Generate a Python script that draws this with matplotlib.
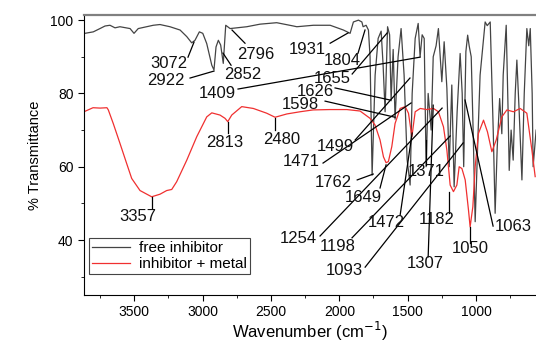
import matplotlib
matplotlib.use("Agg")
import matplotlib.pyplot as plt
from matplotlib.ticker import MultipleLocator

plt.rcParams['font.family'] = ['Liberation Sans', 'DejaVu Sans']

# free inhibitor spectrum (wavenumber, %T)
free_wn = [3861, 3800, 3751, 3714, 3678, 3641, 3605, 3531, 3502, 3471, 3361, 3312,
           3239, 3165, 3116, 3080, 3056, 3024, 2999, 2970, 2933, 2917, 2902, 2885,
           2868, 2849, 2831, 2799, 2677, 2580, 2458, 2336, 2311, 2190, 2067, 1970,
           1921, 1897, 1860, 1835, 1826, 1804, 1787, 1775, 1760, 1738, 1716, 1694,
           1680, 1665, 1647, 1632, 1621, 1606, 1592, 1570, 1548, 1526, 1504, 1482,
           1467, 1445, 1423, 1409, 1394, 1379, 1365, 1350, 1328, 1313, 1292, 1275,
           1250, 1233, 1213, 1196, 1177, 1160, 1138, 1116, 1101, 1090, 1074, 1061,
           1050, 1035, 1021, 1006, 984, 970, 933, 918, 896, 874, 860, 845, 827, 811,
           801, 779, 765, 757, 743, 728, 713, 701, 684, 664, 647, 628, 614, 603,
           589, 582, 560]
free_t = [96.4, 96.8, 97.7, 98.4, 98.6, 97.9, 98.2, 97.7, 96.4, 97.7, 98.6, 98.8,
          98.2, 97.3, 95.5, 93.8, 94.5, 96.8, 96.4, 93.6, 87.7, 86.4, 92.7, 94.5,
          93.2, 88.2, 98.6, 97.7, 98.2, 98.9, 99.3, 98.4, 98.2, 98.6, 98.6, 97.3,
          96.4, 99.5, 100.0, 99.5, 98.2, 98.6, 97.3, 90.0, 57.7, 85.0, 95.0, 97.0,
          88.0, 75.0, 98.2, 96.0, 78.0, 92.0, 73.0, 90.0, 97.7, 85.0, 62.0, 55.0,
          80.0, 95.0, 99.1, 90.0, 96.0, 95.0, 60.0, 80.0, 70.0, 90.0, 93.0, 97.7,
          83.2, 94.1, 81.4, 60.0, 82.3, 54.5, 75.0, 90.9, 80.0, 60.0, 91.4, 95.9,
          93.0, 90.0, 70.0, 45.0, 70.0, 85.0, 99.5, 98.5, 99.5, 70.0, 47.3, 65.0,
          78.6, 69.0, 85.0, 98.6, 75.0, 59.0, 70.0, 61.8, 80.0, 89.1, 75.0, 56.4,
          80.0, 97.7, 93.0, 97.7, 80.0, 60.0, 70.0]

# inhibitor + metal spectrum
metal_wn = [3868, 3802, 3750, 3700, 3690, 3654, 3605, 3556, 3519, 3458, 3373, 3312,
            3263, 3226, 3190, 3116, 3043, 2970, 2933, 2873, 2836, 2816, 2787, 2714,
            2629, 2531, 2470, 2384, 2287, 2192, 2068, 1945, 1848, 1775, 1739, 1702,
            1677, 1658, 1641, 1616, 1592, 1555, 1518, 1494, 1469, 1445, 1408, 1360,
            1311, 1275, 1238, 1213, 1189, 1165, 1140, 1123, 1103, 1079, 1055, 1043,
            1023, 1006, 982, 945, 916, 884, 852, 811, 774, 726, 677, 628, 591, 567]
metal_t = [75.0, 76.1, 76.0, 76.1, 75.5, 71.8, 66.4, 60.9, 56.8, 53.5, 51.8, 52.5,
           53.5, 53.8, 55.9, 61.8, 68.2, 73.6, 74.7, 74.1, 73.2, 72.3, 74.1, 76.4,
           75.9, 74.6, 73.5, 74.4, 75.0, 75.5, 75.6, 75.6, 75.2, 73.2, 71.4, 67.3,
           62.7, 61.1, 61.4, 65.5, 71.8, 75.9, 76.4, 74.6, 68.2, 75.0, 75.9, 75.6,
           75.9, 75.0, 70.9, 64.5, 55.0, 53.2, 55.0, 60.0, 59.5, 56.4, 48.2, 43.6,
           49.1, 60.0, 69.1, 72.7, 69.5, 64.1, 67.3, 73.6, 75.5, 75.0, 75.9, 74.6,
           64.5, 57.3]

# peak labels: text, label position, leader start, leader end (data units)
peak_labels = ['3072', '2922', '2852', '2796', '1409', '1931', '1804', '1655',
               '1626', '1598', '1499', '1471', '1762', '1649', '1254', '1198',
               '1093', '1472', '1371', '1307', '1182', '1050', '1063', '3357',
               '2813', '2480']
label_xy = [(3246, 88.3), (3268, 83.6), (2704, 85.3), (2609, 90.7), (2895, 80.1),
            (2236, 92.1), (1976, 89.1), (2053, 84.2), (2177, 80.6), (2287, 77.1),
            (2030, 65.6), (2280, 61.3), (2045, 55.8), (1826, 51.7), (2302, 40.3),
            (2009, 38.1), (1965, 31.6), (1657, 44.9), (1364, 58.8), (1372, 33.5),
            (1284, 45.7), (1043, 37.6), (728, 43.6), (3472, 46.3), (2835, 66.7),
            (2419, 67.5)]
leader_from = [(3107, 89.9), (3092, 84.2), (2792, 87.7), (2690, 93.7), (2741, 81.2),
               (2067, 93.7), (1863, 91.0), (1906, 85.3), (2031, 81.5), (2104, 77.9),
               (1884, 67.3), (2119, 61.0), (1869, 56.4), (1702, 54.2), (2141, 41.1),
               (1907, 40.6), (1811, 32.6), (1555, 46.8), (1365, 60.5), (1350, 35.4),
               (1196, 47.4), (1043, 39.2), (875, 43.8), (3370, 48.7), (2814, 69.2),
               (2470, 70.0)]
leader_to = [(3063, 94.0), (2917, 86.1), (2851, 91.0), (2785, 97.3), (1409, 89.9),
             (1936, 96.5), (1812, 97.3), (1650, 96.5), (1629, 78.2), (1592, 73.5),
             (1483, 84.2), (1475, 77.4), (1752, 58.0), (1658, 60.5), (1248, 76.0),
             (1189, 68.4), (1094, 66.5), (1467, 69.2), (1365, 67.3), (1313, 76.8),
             (1196, 53.1), (1043, 43.6), (1080, 78.2), (3370, 51.7), (2814, 72.2),
             (2470, 73.3)]

fig = plt.figure(figsize=(5.36, 3.41), dpi=100)
ax = fig.add_axes([0.1567, 0.1349, 0.8433, 0.8211])

ax.plot(free_wn, free_t, color='#444444', lw=0.9, label='free inhibitor')
ax.plot(metal_wn, metal_t, color='#f03030', lw=0.9, label='inhibitor + metal')

for lab, txy, p0, p1 in zip(peak_labels, label_xy, leader_from, leader_to):
    ax.text(txy[0], txy[1], lab, fontsize=12, ha='center', va='center', color='#111111')
    ax.plot([p0[0], p1[0]], [p0[1], p1[1]], color='black', lw=0.9)

ax.set_xlim(3868, 561)
ax.set_ylim(25, 101.4)
ax.xaxis.set_major_locator(MultipleLocator(500))
ax.xaxis.set_minor_locator(MultipleLocator(250))
ax.yaxis.set_major_locator(MultipleLocator(20))
ax.yaxis.set_minor_locator(MultipleLocator(10))
ax.tick_params(which='both', direction='out', labelsize=10)
ax.tick_params(which='major', length=4)
ax.tick_params(which='minor', length=2.5)

ax.spines['right'].set_visible(False)
ax.spines['top'].set_color('#808080')
ax.spines['top'].set_linewidth(1.6)

ax.set_xlabel('Wavenumber (cm$^{-1}$)', fontsize=12, labelpad=0)
ax.set_ylabel('% Transmittance', fontsize=10.5, labelpad=6)

leg = ax.legend(loc='lower left', bbox_to_anchor=(0.01, 0.075), borderaxespad=0,
                fontsize=11, handlelength=2.5, fancybox=False, framealpha=1,
                edgecolor='#444444', borderpad=0.2, labelspacing=0.1, handletextpad=0.6)
leg.get_frame().set_linewidth(0.8)

fig.savefig('out.png', dpi=100)
